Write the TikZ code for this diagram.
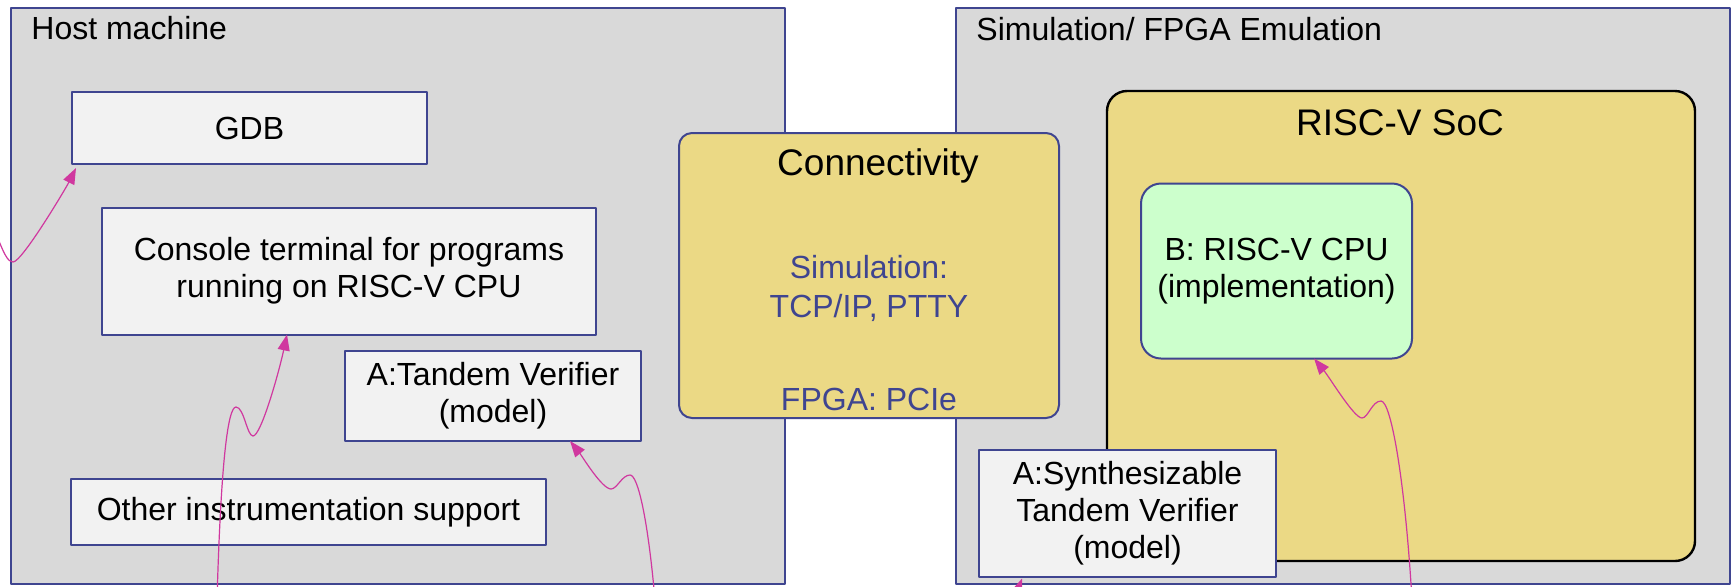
\documentclass[tikz,border=0pt]{standalone}
\usepackage{fontspec}
\setmainfont{Liberation Sans}
\usetikzlibrary{arrows.meta,calc}

\definecolor{panelgray}{HTML}{D9D9D9}
\definecolor{boxwhite}{HTML}{F2F2F2}
\definecolor{edgeblue}{HTML}{3F4590}
\definecolor{socyellow}{HTML}{EBD985}
\definecolor{cpugreen}{HTML}{CCFFCC}
\definecolor{wiremag}{HTML}{D0389F}

\begin{document}
\begin{tikzpicture}[x=0.5pt, y=-0.5pt, line join=round,
    txt/.style={font=\fontsize{16}{18.5}\selectfont},
    bigtxt/.style={font=\fontsize{18.5}{22}\selectfont},
    panel/.style={draw=edgeblue, line width=1pt, fill=panelgray, inner sep=0pt},
    box/.style={draw=edgeblue, line width=1pt, fill=boxwhite, inner sep=0pt, align=center, txt},
    wire/.style={draw=wiremag, line width=0.6pt, -{Triangle[length=8pt,width=6pt]}}]
    % page frame (pixel units, y downwards)
    \clip (0,0) rectangle (1733,586);
    \fill[white] (0,0) rectangle (1733,586);

    % the two panels
    \node[panel, minimum width=387pt, minimum height=288pt] (host) at (398,296) {};
    \node[panel, minimum width=387pt, minimum height=288pt] (sim) at (1343,296) {};
    \node[txt, anchor=base west, inner sep=0pt] (hosttitle) at (31,39) {Host machine};
    \node[txt, anchor=base west, inner sep=0pt] (simtitle) at (976,40) {Simulation/ FPGA Emulation};

    % host side boxes
    \node[box, minimum width=177.5pt, minimum height=36pt] (gdb) at (249.5,128) {GDB};
    \node[box, minimum width=247pt, minimum height=63.5pt] (console) at (349,271) {Console terminal for programs\\running on RISC-V CPU};
    \node[box, minimum width=148pt, minimum height=45pt] (tv) at (493,396) {A:Tandem Verifier\\(model)};
    \node[box, minimum width=237.5pt, minimum height=33pt] (other) at (308.5,512) {Other instrumentation support};

    % connectivity in the gap
    \node[draw=edgeblue, line width=1pt, fill=socyellow, rounded corners=6.5pt,
          minimum width=190pt, minimum height=142.5pt] (conn) at (869,275.5) {};
    \node[bigtxt, anchor=base, inner sep=0pt] (conntitle) at (878,175) {Connectivity};
    \node[txt, text=edgeblue, anchor=base, inner sep=0pt] (connsim) at (869,278) {Simulation:};
    \node[txt, text=edgeblue, anchor=base, inner sep=0pt] (conntcp) at (869,317) {TCP/IP, PTTY};
    \node[txt, text=edgeblue, anchor=base, inner sep=0pt] (connfpga) at (869,410) {FPGA: PCIe};

    % simulation side
    \node[draw=black, line width=1.2pt, fill=socyellow, rounded corners=10pt,
          minimum width=294pt, minimum height=235pt] (soc) at (1401,326) {};
    \node[bigtxt, anchor=base, inner sep=0pt] (soctitle) at (1400,135) {RISC-V SoC};
    \node[draw=edgeblue, line width=1pt, fill=cpugreen, rounded corners=10pt, align=center, txt,
          minimum width=135.5pt, minimum height=87.5pt] (cpu) at (1276.5,271) {B: RISC-V CPU\\(implementation)};
    \node[box, minimum width=148.5pt, minimum height=63.5pt] (synth) at (1127.5,513) {A:Synthesizable\\Tandem Verifier\\(model)};

    % incoming links (sources are off the page)
    \coordinate (gdbsrc) at (-6,228);
    \coordinate (consrc) at (217,600);
    \coordinate (tvsrc) at (655,600);
    \coordinate (cpusrc) at (1412,600);
    \coordinate (synsrc) at (1014,600);

    \draw[wire] (gdbsrc) .. controls (4,255) and (8,262) .. (13,262)
        .. controls (22,262) and (66,188) .. ($(gdb.south west)+(5,3)$);
    \draw[wire] (consrc) .. controls (221,460) and (228,407) .. (236,407)
        .. controls (244,407) and (247,436) .. (253,436)
        .. controls (261,436) and (279,372) .. ($(console.south west)+(186,-1)$);
    \draw[wire] (tvsrc) .. controls (648,520) and (638,475) .. (630,475)
        .. controls (622,475) and (617,489) .. (611,489)
        .. controls (602,489) and (582,456) .. ($(tv.south west)+(226,-1)$);
    \draw[wire] (cpusrc) .. controls (1405,480) and (1391,401) .. (1381,401)
        .. controls (1372,401) and (1368,418) .. (1362,418)
        .. controls (1354,418) and (1330,378) .. ($(cpu.south west)+(174,-1)$);
    \draw[wire] (synsrc) -- ($(synth.south west)+(44,1)$);
\end{tikzpicture}
\end{document}
